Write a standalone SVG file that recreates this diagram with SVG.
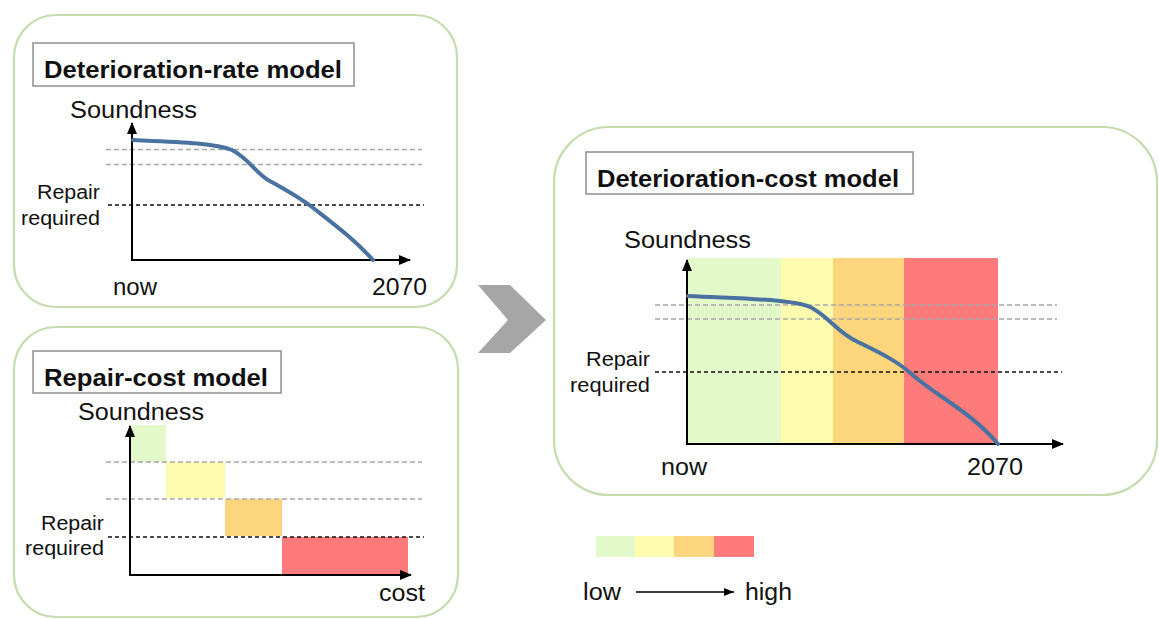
<svg xmlns="http://www.w3.org/2000/svg" width="1159" height="619" viewBox="0 0 1159 619">
  <style>
    .panel { fill: #ffffff; stroke: #c4dcae; stroke-width: 2.2; }
    .tbox { fill: #ffffff; stroke: #8f8f8f; stroke-width: 1.5; }
    .title { font-family: "Liberation Sans", Arial, sans-serif; font-weight: bold; font-size: 24px; fill: #111; }
    .lbl { font-family: "Liberation Sans", Arial, sans-serif; font-size: 23px; fill: #111; }
    .small { font-family: "Liberation Sans", Arial, sans-serif; font-size: 20px; fill: #111; text-anchor: end; }
    .axis { stroke: #000; stroke-width: 2; fill: none; }
    .gdash { stroke: #a8a8a8; stroke-width: 1.5; stroke-dasharray: 5 3; fill: none; }
    .bdash { stroke: #111; stroke-width: 1.6; stroke-dasharray: 4 3; fill: none; }
    .curve { stroke: #4a72a0; stroke-width: 4; fill: none; stroke-linecap: round; }
    .c1 { fill: #e3f9c9; }
    .c2 { fill: #fdfcae; }
    .c3 { fill: #fdd57c; }
    .c4 { fill: #fd7b7b; }
  </style>
  <defs>
    <marker id="ah" markerWidth="12" markerHeight="10" refX="11" refY="5" orient="auto" markerUnits="userSpaceOnUse">
      <path d="M0,0 L12,5 L0,10 Z" fill="#000"/>
    </marker>
    <marker id="ahs" markerWidth="10" markerHeight="8" refX="10" refY="4" orient="auto" markerUnits="userSpaceOnUse">
      <path d="M0,0 L10,4 L0,8 Z" fill="#000"/>
    </marker>
  </defs>
  <rect width="1159" height="619" fill="#ffffff"/>

  <g id="deterioration-rate-model">
    <rect class="panel" x="14" y="15" width="443" height="292" rx="42" ry="42"/>
    <rect class="tbox" x="33" y="43" width="321" height="43"/>
    <text class="title" x="44" y="78" textLength="298" lengthAdjust="spacingAndGlyphs">Deterioration-rate model</text>
    <text class="lbl" x="70" y="118" textLength="127" lengthAdjust="spacingAndGlyphs">Soundness</text>
    <line class="gdash" x1="106" y1="149.5" x2="422" y2="149.5"/>
    <line class="gdash" x1="106" y1="164.5" x2="422" y2="164.5"/>
    <line class="bdash" x1="108" y1="205" x2="424" y2="205"/>
    <text class="small" x="100" y="199" textLength="63" lengthAdjust="spacingAndGlyphs">Repair</text>
    <text class="small" x="100" y="225" textLength="79" lengthAdjust="spacingAndGlyphs">required</text>
    <line class="axis" x1="132" y1="260" x2="132" y2="123" marker-end="url(#ah)"/>
    <line class="axis" x1="131" y1="260" x2="410" y2="260" marker-end="url(#ah)"/>
    <path class="curve" d="M133,140 C180,142 215,143 232,150 C248,158 255,172 268,180 C290,192 300,198 312,207 C335,225 355,240 373,260"/>
    <text class="lbl" x="113" y="295" textLength="44" lengthAdjust="spacingAndGlyphs">now</text>
    <text class="lbl" x="372" y="295" textLength="55" lengthAdjust="spacingAndGlyphs">2070</text>
  </g>

  <g id="repair-cost-model">
    <rect class="panel" x="14" y="327" width="444" height="290" rx="42" ry="42"/>
    <rect class="tbox" x="33" y="351" width="248" height="42"/>
    <text class="title" x="44" y="386" textLength="224" lengthAdjust="spacingAndGlyphs">Repair-cost model</text>
    <text class="lbl" x="78" y="420" textLength="126" lengthAdjust="spacingAndGlyphs">Soundness</text>
    <rect class="c1" x="131" y="425" width="35" height="37"/>
    <rect class="c2" x="166" y="462" width="59" height="36"/>
    <rect class="c3" x="225" y="499" width="57" height="37"/>
    <rect class="c4" x="282" y="537" width="126" height="38"/>
    <line class="gdash" x1="106" y1="462" x2="422" y2="462"/>
    <line class="gdash" x1="106" y1="499" x2="422" y2="499"/>
    <line class="bdash" x1="108" y1="537" x2="424" y2="537"/>
    <text class="small" x="104" y="530" textLength="63" lengthAdjust="spacingAndGlyphs">Repair</text>
    <text class="small" x="104" y="555" textLength="79" lengthAdjust="spacingAndGlyphs">required</text>
    <line class="axis" x1="130" y1="575" x2="130" y2="426" marker-end="url(#ah)"/>
    <line class="axis" x1="129" y1="575" x2="411" y2="575" marker-end="url(#ah)"/>
    <text class="lbl" x="379" y="601" textLength="46" lengthAdjust="spacingAndGlyphs">cost</text>
  </g>

  <g id="deterioration-cost-model">
    <rect class="panel" x="554" y="127" width="603" height="368" rx="55" ry="55"/>
    <rect class="tbox" x="586" y="152" width="327" height="42"/>
    <text class="title" x="597" y="187" textLength="302" lengthAdjust="spacingAndGlyphs">Deterioration-cost model</text>
    <text class="lbl" x="624" y="248" textLength="127" lengthAdjust="spacingAndGlyphs">Soundness</text>
    <rect class="c1" x="687" y="258" width="94" height="186"/>
    <rect class="c2" x="781" y="258" width="52" height="186"/>
    <rect class="c3" x="833" y="258" width="71" height="186"/>
    <rect class="c4" x="904" y="258" width="94" height="186"/>
    <line class="gdash" x1="655" y1="305" x2="1057" y2="305"/>
    <line class="gdash" x1="655" y1="319" x2="1057" y2="319"/>
    <line class="bdash" x1="655" y1="372" x2="1062" y2="372"/>
    <text class="small" x="650" y="366" textLength="64" lengthAdjust="spacingAndGlyphs">Repair</text>
    <text class="small" x="650" y="392" textLength="80" lengthAdjust="spacingAndGlyphs">required</text>
    <line class="axis" x1="687" y1="444" x2="687" y2="260" marker-end="url(#ah)"/>
    <line class="axis" x1="686" y1="444" x2="1063" y2="444" marker-end="url(#ah)"/>
    <path class="curve" d="M688,296 C745,299 795,299 812,308 C830,318 838,333 858,342 C885,355 900,363 915,377 C940,398 972,413 998,444"/>
    <text class="lbl" x="661" y="475" textLength="46" lengthAdjust="spacingAndGlyphs">now</text>
    <text class="lbl" x="967" y="475" textLength="56" lengthAdjust="spacingAndGlyphs">2070</text>
  </g>

  <g id="legend">
    <rect class="c1" x="596" y="536" width="39" height="21"/>
    <rect class="c2" x="635" y="536" width="39" height="21"/>
    <rect class="c3" x="674" y="536" width="40" height="21"/>
    <rect class="c4" x="714" y="536" width="40" height="21"/>
    <text class="lbl" x="583" y="600" textLength="38" lengthAdjust="spacingAndGlyphs">low</text>
    <text class="lbl" x="745" y="600" textLength="47" lengthAdjust="spacingAndGlyphs">high</text>
  </g>

  <g id="connectors">
    <polygon points="478,285 510,285 546,320 510,353 478,353 508,320" fill="#a6a6a6"/>
    <line x1="636" y1="592" x2="734" y2="592" stroke="#000" stroke-width="1.3" marker-end="url(#ahs)"/>
  </g>
</svg>
